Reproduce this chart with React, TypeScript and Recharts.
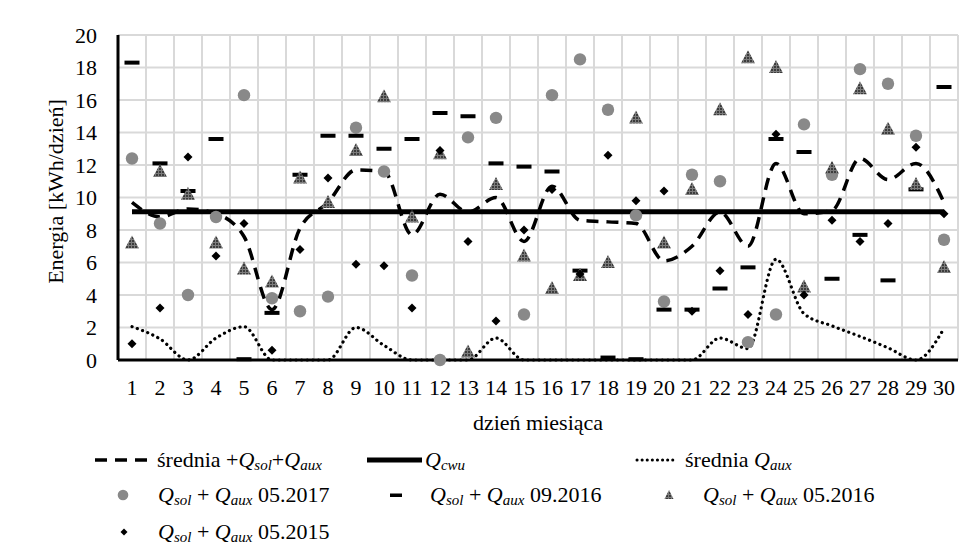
import React from 'react';
import { ComposedChart, Line, XAxis, YAxis, CartesianGrid } from 'recharts';

const days = ['1','2','3','4','5','6','7','8','9','10','11','12','13','14','15','16','17','18','19','20','21','22','23','24','25','26','27','28','29','30'];
const yTicks = [0, 2, 4, 6, 8, 10, 12, 14, 16, 18, 20];

// średnia Qsol+Qaux (dashed)
const avgSolAux = [9.7, 8.8, 9.3, 9.0, 7.6, 3.1, 8.1, 9.7, 11.7, 11.6, 7.7, 10.2, 9.1, 10.0, 7.3, 10.7, 8.6, 8.5, 8.4, 6.1, 7.0, 9.1, 7.0, 12.1, 9.0, 9.2, 12.4, 11.1, 12.1, 9.7];
// Qcwu (solid)
const qCwu = [9.13, 9.13, 9.13, 9.13, 9.13, 9.13, 9.13, 9.13, 9.13, 9.13, 9.13, 9.13, 9.13, 9.13, 9.13, 9.13, 9.13, 9.13, 9.13, 9.13, 9.13, 9.13, 9.13, 9.13, 9.13, 9.13, 9.13, 9.13, 9.13, 9.13];
// średnia Qaux (dotted)
const avgAux = [2.05, 1.3, 0, 1.35, 2.05, 0, 0, 0, 2.0, 0.9, 0, 0, 0, 1.35, 0, 0, 0, 0, 0, 0, 0, 1.35, 0.7, 6.2, 2.85, 2.1, 1.45, 0.75, 0, 1.95];
// Qsol + Qaux 05.2017 (circles)
const may2017 = [12.4, 8.4, 4.0, 8.8, 16.3, 3.8, 3.0, 3.9, 14.3, 11.6, 5.2, 0.0, 13.7, 14.9, 2.8, 16.3, 18.5, 15.4, 8.9, 3.6, 11.4, 11.0, 1.1, 2.8, 14.5, 11.4, 17.9, 17.0, 13.8, 7.4];
// Qsol + Qaux 09.2016 (dashes)
const sep2016 = [18.3, 12.1, 10.4, 13.6, 0.05, 2.9, 11.4, 13.8, 13.8, 13.0, 13.6, 15.2, 15.0, 12.1, 11.9, 11.6, 5.5, 0.15, 0.05, 3.1, 3.1, 4.4, 5.7, 13.6, 12.8, 5.0, 7.7, 4.9, 10.5, 16.8];
// Qsol + Qaux 05.2016 (triangles)
const may2016 = [7.2, 11.6, 10.2, 7.2, 5.6, 4.8, 11.2, 9.7, 12.9, 16.2, 8.8, 12.7, 0.5, 10.8, 6.4, 4.4, 5.2, 6.0, 14.9, 7.2, 10.5, 15.4, 18.6, 18.0, 4.5, 11.8, 16.7, 14.2, 10.8, 5.7];
// Qsol + Qaux 05.2015 (diamonds)
const may2015 = [1.0, 3.2, 12.5, 6.4, 8.4, 0.6, 6.8, 11.2, 5.9, 5.8, 3.2, 12.9, 7.3, 2.4, 8.0, 10.5, 5.3, 12.6, 9.8, 10.4, 3.0, 5.5, 2.8, 13.9, 4.0, 8.6, 7.3, 8.4, 13.1, 9.0];

const data = days.map((d, i) => ({
  day: d,
  avgSolAux: avgSolAux[i],
  qCwu: qCwu[i],
  avgAux: avgAux[i],
  may2017: may2017[i],
  sep2016: sep2016[i],
  may2016: may2016[i],
  may2015: may2015[i],
}));

const FONT = '"Liberation Serif", "Times New Roman", "DejaVu Serif", serif';
const TS: React.CSSProperties = { fontFamily: FONT, fontSize: 22 };
const W = 966;
const H = 548;

const CircleDot = (p: any) =>
  p.cx == null ? null : <circle key={`c${p.index}`} cx={p.cx} cy={p.cy} r={6.2} fill="#898989" />;
const DashDot = (p: any) =>
  p.cx == null ? null : <rect key={`d${p.index}`} x={p.cx - 7.5} y={p.cy - 2} width={15} height={4} fill="#000" />;
const TriDot = (p: any) =>
  p.cx == null ? null : (
    <path key={`t${p.index}`} d={`M${p.cx},${p.cy - 7.5} L${p.cx + 7},${p.cy + 5.5} L${p.cx - 7},${p.cy + 5.5} Z`} fill="url(#triHatch)" />
  );
const DiaDot = (p: any) =>
  p.cx == null ? null : (
    <path key={`m${p.index}`} d={`M${p.cx},${p.cy - 4.5} L${p.cx + 4.5},${p.cy} L${p.cx},${p.cy + 4.5} L${p.cx - 4.5},${p.cy} Z`} fill="#000" />
  );

const XTick = (p: any) => (
  <text x={p.x} y={p.y + 35} textAnchor="middle" style={TS} fill="#000">
    {p.payload.value}
  </text>
);
const YTick = (p: any) => (
  <text x={p.x - 21} y={p.y + 7.5} textAnchor="end" style={TS} fill="#000">
    {p.payload.value}
  </text>
);

const YTitle = (p: any) => {
  const vb = p.viewBox || { x: 0, y: 27, width: 110, height: 325 };
  return (
    <text
      transform={`translate(47, ${vb.y + vb.height / 2 - 6}) rotate(-90)`}
      textAnchor="middle"
      dominantBaseline="central"
      style={TS}
      fill="#000"
    >
      Energia [kWh/dzień]
    </text>
  );
};
const XTitle = (p: any) => {
  const vb = p.viewBox || { x: 110, y: 352, width: 840, height: 40 };
  return (
    <text x={vb.x + vb.width / 2} y={vb.y + 70} textAnchor="middle" style={TS} fill="#000">
      dzień miesiąca
    </text>
  );
};

const Q = (sub: string) => [
  <tspan key="q" fontStyle="italic">Q</tspan>,
  <tspan key="s" fontStyle="italic" style={{ fontSize: 15 }} dy={3}>{sub}</tspan>,
];

const SolAux = ({ suffix }: { suffix: string }) => (
  <>
    {Q('sol')}
    <tspan dy={-3}> + </tspan>
    <tspan fontStyle="italic">Q</tspan>
    <tspan fontStyle="italic" style={{ fontSize: 15 }} dy={3}>aux</tspan>
    <tspan dy={-3}>{' ' + suffix}</tspan>
  </>
);

const LegendOverlay = () => {
  const r1 = 452;
  const r2 = 487;
  const r3 = 524;
  const t = (y: number) => y + 7;
  return (
    <svg width={W} height={H} style={{ position: 'absolute', left: 0, top: 0, pointerEvents: 'none' }}>
      {/* row 1 */}
      <line x1={87} y1={r1} x2={139} y2={r1} stroke="#000" strokeWidth={3.5} strokeDasharray="12 8" />
      <text x={149} y={t(r1)} style={TS} fill="#000">
        <tspan>średnia +</tspan>
        {Q('sol')}
        <tspan dy={-3}>+</tspan>
        <tspan fontStyle="italic">Q</tspan>
        <tspan fontStyle="italic" style={{ fontSize: 15 }} dy={3}>aux</tspan>
      </text>
      <line x1={359} y1={r1} x2={414} y2={r1} stroke="#000" strokeWidth={5} />
      <text x={417} y={t(r1)} style={TS} fill="#000">
        {Q('cwu')}
      </text>
      <line x1={629} y1={r1} x2={669} y2={r1} stroke="#000" strokeWidth={3} strokeDasharray="0.1 5" strokeLinecap="round" />
      <text x={677} y={t(r1)} style={TS} fill="#000">
        <tspan>średnia </tspan>
        {Q('aux')}
      </text>
      {/* row 2 */}
      <circle cx={115} cy={r2} r={5.3} fill="#898989" />
      <text x={150} y={t(r2)} style={TS} fill="#000">
        <SolAux suffix="05.2017" />
      </text>
      <rect x={382} y={r2 - 1.5} width={12} height={3.5} fill="#000" />
      <text x={422} y={t(r2)} style={TS} fill="#000">
        <SolAux suffix="09.2016" />
      </text>
      <path d={`M661,${r2 - 5} L665.5,${r2 + 4} L656.5,${r2 + 4} Z`} fill="url(#triHatch)" />
      <text x={695} y={t(r2)} style={TS} fill="#000">
        <SolAux suffix="05.2016" />
      </text>
      {/* row 3 */}
      <path d={`M116,${r3 - 3.5} L119.5,${r3} L116,${r3 + 3.5} L112.5,${r3} Z`} fill="#000" />
      <text x={150} y={t(r3)} style={TS} fill="#000">
        <SolAux suffix="05.2015" />
      </text>
    </svg>
  );
};

export default function App() {
  return (
    <div
      style={{
        position: 'relative',
        width: W,
        height: H,
        marginLeft: -1,
        marginTop: -1,
        borderLeft: '1px solid #d9d9d9',
        borderTop: '1px solid #d9d9d9',
        background: '#fff',
        fontFamily: FONT,
      }}
    >
      <svg width={0} height={0} style={{ position: 'absolute' }}>
        <defs>
          <pattern id="triHatch" patternUnits="userSpaceOnUse" width={3} height={3}>
            <rect width={3} height={3} fill="#3c3c3c" />
            <path d="M0 0.5 H3 M0.5 0 V3" stroke="#7c7c7c" strokeWidth={1} />
          </pattern>
        </defs>
      </svg>
      <ComposedChart width={W} height={H} data={data} margin={{ top: 27, right: 16, left: 0, bottom: 156 }}>
        <CartesianGrid
          stroke="#d9d9d9"
          strokeWidth={2}
          verticalCoordinatesGenerator={({ offset }: any) => {
            const out: number[] = [];
            for (let k = 1; k <= days.length; k++) out.push(offset.left + (k * offset.width) / days.length);
            return out;
          }}
        />
        <XAxis
          dataKey="day"
          scale="point"
          padding={{ left: 14, right: 14 }}
          height={40}
          tickSize={0}
          tickMargin={0}
          tickLine={false}
          interval={0}
          axisLine={{ stroke: '#000', strokeWidth: 3 }}
          tick={<XTick />}
          label={<XTitle />}
        />
        <YAxis
          width={110}
          domain={[0, 20]}
          ticks={yTicks}
          tickSize={0}
          tickMargin={0}
          tickLine={false}
          interval={0}
          axisLine={{ stroke: '#000', strokeWidth: 3 }}
          tick={<YTick />}
          label={<YTitle />}
        />
        <Line dataKey="avgSolAux" type="monotone" stroke="#000" strokeWidth={3.5} strokeDasharray="12 8" dot={false} activeDot={false} isAnimationActive={false} />
        <Line dataKey="qCwu" type="linear" stroke="#000" strokeWidth={5} dot={false} activeDot={false} isAnimationActive={false} />
        <Line dataKey="avgAux" type="monotone" stroke="#000" strokeWidth={3.2} strokeDasharray="0.1 5.5" strokeLinecap="round" dot={false} activeDot={false} isAnimationActive={false} />
        <Line dataKey="may2017" stroke="none" dot={CircleDot} activeDot={false} isAnimationActive={false} />
        <Line dataKey="sep2016" stroke="none" dot={DashDot} activeDot={false} isAnimationActive={false} />
        <Line dataKey="may2016" stroke="none" dot={TriDot} activeDot={false} isAnimationActive={false} />
        <Line dataKey="may2015" stroke="none" dot={DiaDot} activeDot={false} isAnimationActive={false} />
      </ComposedChart>
      <LegendOverlay />
    </div>
  );
}
